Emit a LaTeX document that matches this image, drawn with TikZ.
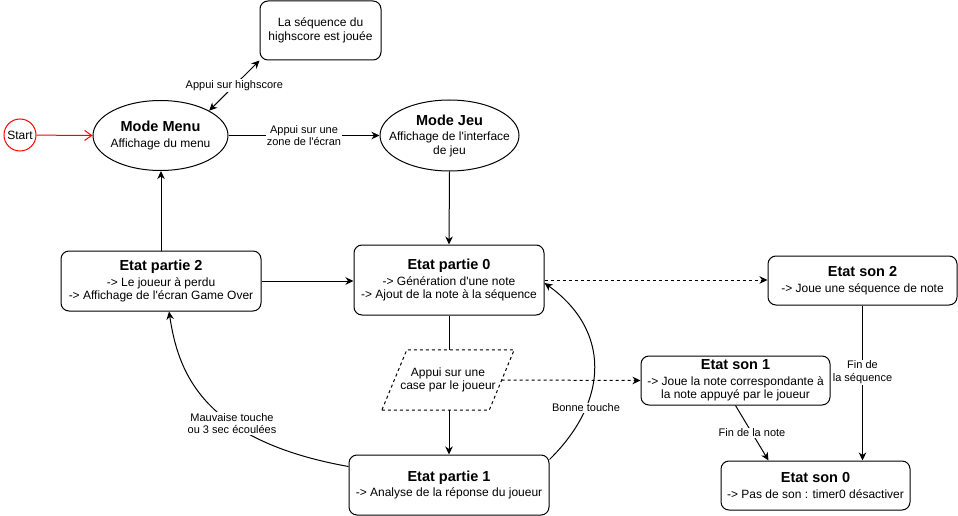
\documentclass[tikz,border=0pt]{standalone}
\usepackage{fontspec}
\setmainfont{Liberation Sans}
\usetikzlibrary{shapes.geometric, arrows.meta, calc}
\newcommand{\sttitle}[1]{{\fontsize{14.5}{17}\selectfont\bfseries #1}}

\begin{document}
\begin{tikzpicture}[x=1pt, y=-1pt,
    >={Stealth[length=8pt, width=7.5pt, inset=2.5pt]},
    etat/.style={rectangle, draw, rounded corners=8pt, line width=1pt,
                 align=center, inner sep=0pt,
                 font=\fontsize{12}{13.5}\selectfont},
    mode/.style={ellipse, draw, line width=1pt, align=center,
                 inner xsep=-16pt, inner ysep=0pt,
                 font=\fontsize{12}{13.5}\selectfont},
    arr/.style={->, line width=1pt},
    dsh/.style={dash pattern=on 3pt off 3pt},
    lbl/.style={fill=white, inner sep=1pt, align=center,
                font=\fontsize{11}{12.5}\selectfont}
  ]
  \useasboundingbox (0,0) rectangle (958,516);

  % modes
  \node[circle, draw=red, line width=1pt, minimum size=32pt, inner sep=0pt,
        font=\fontsize{12}{13.5}\selectfont] (start) at (20,135) {Start};
  \node[mode, minimum width=135pt, minimum height=70pt] (menu) at (160.5,135.5)
        {\sttitle{Mode Menu}\\[2pt]Affichage du menu};
  \node[mode, minimum width=139pt, minimum height=71pt] (jeu) at (449.5,135.5)
        {\sttitle{Mode Jeu}\\[2pt]Affichage de l\textquotesingle interface\\de jeu};
  \node[etat, minimum width=121pt, minimum height=59pt] (hs) at (320.5,30.5)
        {La séquence du\\highscore est jouée};

  % etats partie
  \node[etat, minimum width=200pt, minimum height=60pt] (p2) at (161,281)
        {\sttitle{Etat partie 2}\\[2pt]-> Le joueur à perdu\\-> Affichage de l\textquotesingle écran Game Over};
  \node[etat, minimum width=190pt, minimum height=70pt] (p0) at (449,280)
        {\sttitle{Etat partie 0}\\[2pt]-> Génération d\textquotesingle une note\\-> Ajout de la note à la séquence};
  \node[etat, minimum width=200pt, minimum height=60pt] (p1) at (449,485)
        {\sttitle{Etat partie 1}\\[2pt]-> Analyse de la réponse du joueur};
  \node[rectangle, minimum width=107pt, minimum height=60pt, inner sep=0pt,
        align=center, font=\fontsize{12}{13.5}\selectfont] (par) at (448,380)
        {Appui sur une\\case par le joueur};
  \draw[dsh, line width=1pt] ([xshift=-12.5pt]par.south west)
        -- ([xshift=-12.5pt]par.south east) -- ([xshift=12.5pt]par.north east)
        -- ([xshift=12.5pt]par.north west) -- cycle;

  % etats son
  \node[etat, minimum width=189pt, minimum height=49pt] (son2) at (862.5,280.5)
        {\sttitle{Etat son 2}\\[2pt]-> Joue une séquence de note};
  \node[etat, minimum width=189pt, minimum height=49pt] (son1) at (735.5,380.5)
        {\sttitle{Etat son 1}\\[2pt]-> Joue la note correspondante à\\la note appuyé par le joueur};
  \node[etat, minimum width=189pt, minimum height=49pt] (son0) at (815.5,485.5)
        {\sttitle{Etat son 0}\\[2pt]-> Pas de son : timer0 désactiver};

  % transitions
  \draw[red, line width=1pt, -{Straight Barb[length=7pt, width=10pt]}]
        (start) -- (menu.west);
  \draw[line width=1pt, <->] (menu.27) -- (hs.south west)
        node[midway, lbl] {Appui sur highscore};
  \draw[arr] (menu.east) -- (jeu.west)
        node[midway, lbl] {Appui sur une\\zone de l\textquotesingle écran};
  \draw[arr] (jeu.south) -- (p0.north);
  \draw[arr] (p2.north) -- (p2.north |- menu.south);
  \draw[arr] (p2.east) -- (p2.east -| p0.west);
  \draw[line width=1pt] (p0.south) -- (p0.south |- par.north);
  \draw[arr] (p1.north |- par.south) -- (p1.north);
  \draw[arr, dsh] (p0.east) -- (p0.east -| son2.west);
  \draw[arr, dsh] (par.east) -- (son1.west);
  \draw[arr] (son2.south) -- (son2.south |- son0.north)
        node[pos=0.43, lbl] {Fin de\\la séquence};
  \draw[arr] (son1.south) -- ([xshift=-47pt]son0.north)
        node[midway, lbl] {Fin de la note};
  \draw[arr] ([yshift=-12pt]p1.north west) .. controls (200,440) and (178,370)
        .. ([xshift=8pt]p2.south)
        node[pos=0.36, lbl] {Mauvaise touche\\ou 3 sec écoulées};
  \draw[arr] ([yshift=-5pt]p1.north east) .. controls (610,400) and (610,330)
        .. ([yshift=-3pt]p0.east)
        node[pos=0.28, lbl] {Bonne touche};
\end{tikzpicture}
\end{document}
